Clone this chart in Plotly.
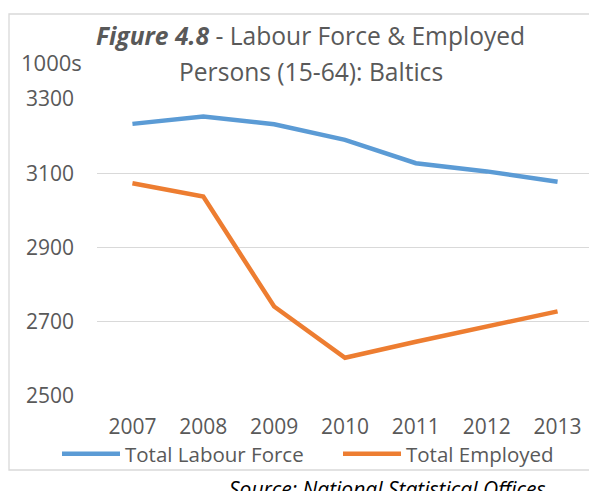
import plotly.graph_objects as go

# data (1000s)
years = ["2007", "2008", "2009", "2010", "2011", "2012", "2013"]
labour_force = [3233, 3253, 3232, 3190, 3127, 3105, 3077]
employed = [3073, 3037, 2741, 2603, 2646, 2687, 2728]
y_ticks = [2500, 2700, 2900, 3100, 3300]

BLUE = "#5B9BD5"
ORANGE = "#ED7D31"
GREY_TXT = "#595959"
GRID = "#D9D9D9"
FONT = "Open Sans"

W, H = 597, 491
OFF = 8  # page body margin: figure is drawn 8px in from the window corner
L, R, T, B = 97 - OFF, 593 - OFF, 99 - OFF, 396 - OFF  # plot area, figure px


def px_x(px):
    # screen px -> paper x
    return (px - OFF - L) / (R - L)


def px_y(py):
    return (B - (py - OFF)) / (B - T)


fig = go.Figure()
fig.add_trace(go.Scatter(
    x=years, y=labour_force, mode="lines", name="Total Labour Force",
    line=dict(color=BLUE, width=4.5), legend="legend",
))
fig.add_trace(go.Scatter(
    x=years, y=employed, mode="lines", name="Total Employed",
    line=dict(color=ORANGE, width=4.5), legend="legend2",
))

leg = dict(
    orientation="h", yanchor="middle", xanchor="left",
    font=dict(size=20.5, color=GREY_TXT), bgcolor="rgba(0,0,0,0)",
    itemwidth=58,
)

fig.update_layout(
    width=W, height=H,
    margin=dict(l=L, r=W - R, t=T, b=H - B),
    plot_bgcolor="white", paper_bgcolor="white",
    font=dict(family=FONT, size=21, color=GREY_TXT),
    showlegend=True,
    legend=dict(leg, x=px_x(57), y=px_y(454)),
    legend2=dict(leg, x=px_x(338), y=px_y(454)),
)
fig.update_xaxes(
    type="category", range=[-0.5, 6.5], showgrid=False, showline=False,
    zeroline=False, ticks="", ticklabelstandoff=16,
)
fig.update_yaxes(
    range=[2500, 3300], tickvals=y_ticks, showgrid=True, gridcolor=GRID,
    gridwidth=1.3, zeroline=False, showline=False, ticks="", ticklabelstandoff=22,
)

# outer chart border (runs past the right edge like the source)
fig.add_shape(
    type="rect", xref="paper", yref="paper",
    x0=px_x(9), x1=px_x(630), y0=px_y(470), y1=px_y(14),
    line=dict(color=GRID, width=1.3), layer="below",
)

fig.add_annotation(
    text="<b><i>Figure 4.8</i></b> - Labour Force & Employed",
    xref="paper", yref="paper", x=px_x(310), y=px_y(35),
    xanchor="center", yanchor="middle", showarrow=False,
    font=dict(size=24.6, color=GREY_TXT),
)
fig.add_annotation(
    text="Persons (15-64): Baltics",
    xref="paper", yref="paper", x=px_x(311), y=px_y(71),
    xanchor="center", yanchor="middle", showarrow=False,
    font=dict(size=24.6, color=GREY_TXT),
)
fig.add_annotation(
    text="1000s", xref="paper", yref="paper", x=px_x(19), y=px_y(62),
    xanchor="left", yanchor="middle", showarrow=False,
    font=dict(size=22, color=GREY_TXT),
)
fig.add_annotation(
    text="<i>Source: National Statistical Offices</i>",
    xref="paper", yref="paper", x=px_x(227), y=px_y(473),
    xanchor="left", yanchor="top", showarrow=False,
    font=dict(size=21, color="black"),
)

fig.write_html("out.html")
